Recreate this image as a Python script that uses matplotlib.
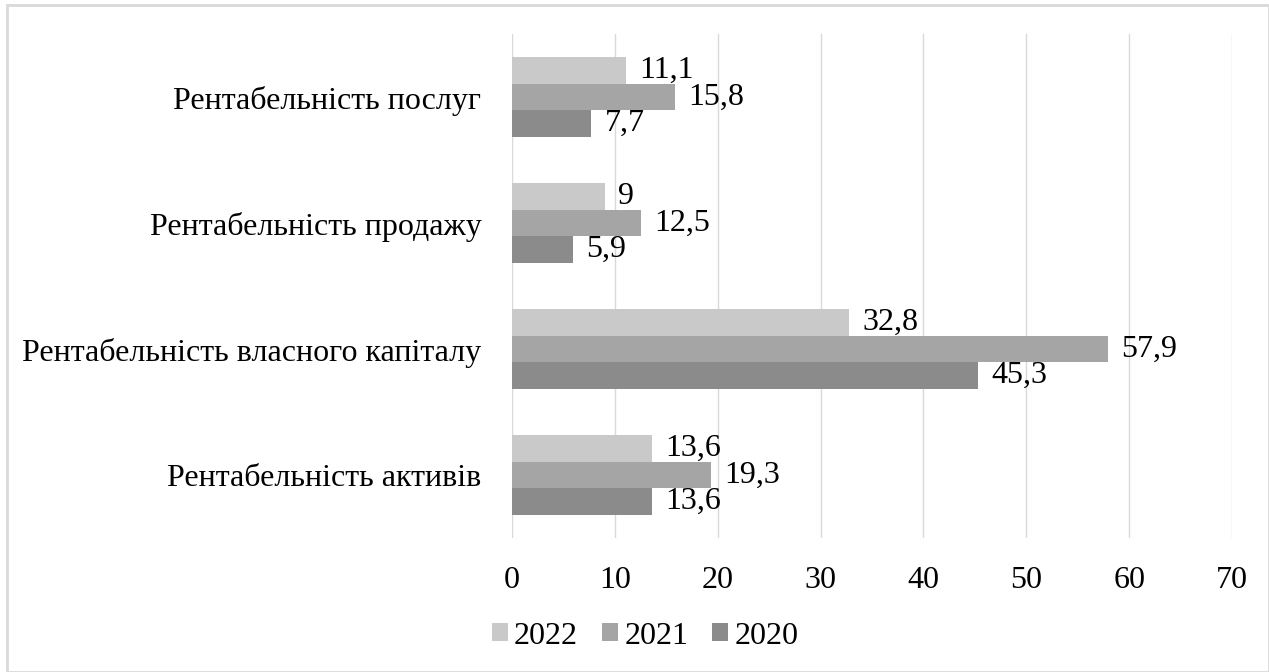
import numpy as np
import matplotlib.pyplot as plt
from matplotlib.patches import Rectangle

categories = ["Рентабельність активів", "Рентабельність власного капіталу",
              "Рентабельність продажу", "Рентабельність послуг"]
years = ["2022", "2021", "2020"]
v2022 = [13.6, 32.8, 9.0, 11.1]
v2021 = [19.3, 57.9, 12.5, 15.8]
v2020 = [13.6, 45.3, 5.9, 7.7]
colors = ["#c9c9c9", "#a5a5a5", "#8b8b8b"]

plt.rcParams['font.family'] = ['Liberation Serif', 'DejaVu Serif']
fs = 23

fig = plt.figure(figsize=(12.69, 6.72), dpi=100)
# light frame around the whole chart
fig.patches.append(Rectangle((7 / 1269, 0.0), 1 - 7 / 1269 - 0.5 / 1269, 1 - 5 / 672,
                             transform=fig.transFigure, fill=False,
                             edgecolor="#d9d9d9", linewidth=2))
ax = fig.add_axes([512 / 1269, 1 - 538 / 672, (1232 - 512) / 1269, (538 - 34) / 672])

y = np.arange(len(categories))
h = 0.21
for i, (vals, lab, c) in enumerate(zip([v2022, v2021, v2020], years, colors)):
    pos = y + (1 - i) * h
    ax.barh(pos, vals, height=h, color=c, label=lab, zorder=3)
    for p, v in zip(pos, vals):
        txt = ("%g" % v).replace(".", ",")
        ax.text(v + 1.3, p, txt, va="center", ha="left", fontsize=fs)

ax.set_xlim(0, 70)
ax.set_ylim(-0.5, 3.5)
ax.set_xticks(range(0, 71, 10))
ax.set_yticks(y)
ax.set_yticklabels(categories)
ax.grid(axis="x", color="#d9d9d9", linewidth=1, zorder=0)
for s in ax.spines.values():
    s.set_visible(False)
ax.tick_params(length=0, labelsize=fs)
ax.tick_params(axis="x", pad=20)
ax.tick_params(axis="y", pad=22)

fig.legend(loc="center", bbox_to_anchor=(645 / 1269, 1 - 636 / 672), ncol=3,
           frameon=False, handlelength=0.5, handleheight=0.5, handletextpad=0.2,
           columnspacing=0.75, fontsize=fs)

fig.savefig("out.png", dpi=100)
